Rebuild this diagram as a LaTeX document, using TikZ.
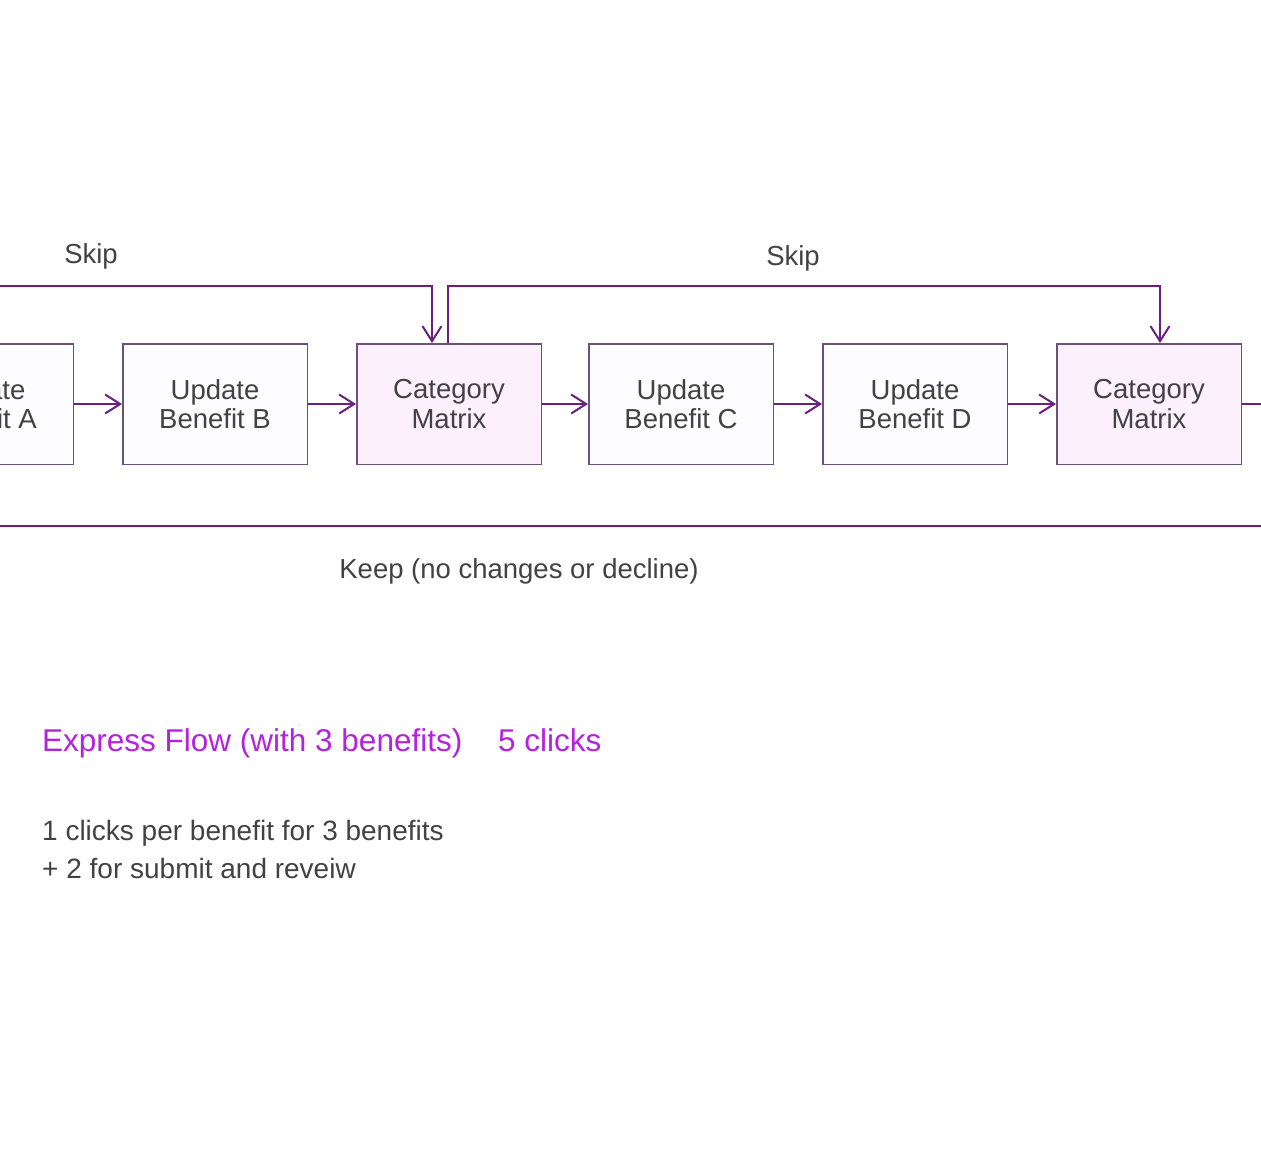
\documentclass[tikz,border=0pt]{standalone}
\usepackage{fontspec}
\setmainfont{Liberation Sans}
\usetikzlibrary{positioning,arrows.meta}

\definecolor{flowline}{HTML}{6A1F7E}
\definecolor{boxedge}{HTML}{6B4F7E}
\definecolor{boxfill}{HTML}{FDFCFF}
\definecolor{matrixfill}{HTML}{FCF0FC}
\definecolor{labeltext}{HTML}{424242}
\definecolor{expresstext}{HTML}{B522DD}

\tikzset{
	stepbox/.style={draw=boxedge, line width=1.5pt, fill=boxfill, minimum width=184.5pt,
		minimum height=120.5pt, inner sep=0pt, align=center, text=labeltext,
		font=\fontsize{27.5}{29.5}\selectfont},
	matrixbox/.style={stepbox, fill=matrixfill},
	flow/.style={draw=flowline, line width=2pt, -{Straight Barb[length=15pt,width=19pt,line width=2pt]}},
	plainflow/.style={draw=flowline, line width=2pt},
	note/.style={text=labeltext, inner sep=0pt, font=\fontsize{27.5}{30}\selectfont},
}

\begin{document}
\begin{tikzpicture}[x=1pt, y=-1pt, node distance=48pt]
	\fill[white] (0,0) rectangle (1261,1171);
	\useasboundingbox (0,0) rectangle (1261,1171);
	\clip (0,0) rectangle (1261,1171);

	% the chain of steps
	\node[stepbox] (benA) at (-19,404) {Update\\Benefit A};
	\node[stepbox, right=of benA] (benB) {Update\\Benefit B};
	\node[matrixbox, right=of benB] (catA) {Category\\Matrix};
	\node[stepbox, right=46pt of catA] (benC) {Update\\Benefit C};
	\node[stepbox, right=of benC] (benD) {Update\\Benefit D};
	\node[matrixbox, right=of benD] (catB) {Category\\Matrix};

	\coordinate (skipin) at (0,286);
	\coordinate (exitR) at (1261,404);
	\coordinate (keepL) at (0,526);
	\coordinate (keepR) at (1261,526);

	\path[flow]
	(benA) edge (benB)
	(benB) edge (catA)
	(catA) edge (benC)
	(benC) edge (benD)
	(benD) edge (catB);
	\draw[plainflow] (catB.east) -- (exitR);

	% skip paths
	\draw[flow] (skipin) -| ([xshift=-17pt]catA.north);
	\draw[flow] ([xshift=-1pt]catA.north) -- ([xshift=-1pt]catA.north |- skipin) -| ([xshift=11pt]catB.north);
	\node[note] (skipA) at (91,256) {Skip};
	\node[note] (skipB) at (793,258) {Skip};

	% keep path
	\draw[plainflow] (keepL) -- (keepR);
	\node[note] (keep) at (519,571) {Keep (no changes or decline)};

	% summary
	\node[note, anchor=base west, text=expresstext, font=\fontsize{31.5}{36}\selectfont] (express) at (42,751) {Express Flow (with 3 benefits)};
	\node[note, anchor=base west, text=expresstext, font=\fontsize{31.5}{36}\selectfont] (clicks) at (498,751) {5 clicks};
	\node[note, anchor=west, align=left, font=\fontsize{28}{38}\selectfont] (detail) at (42,849) {1 clicks per benefit for 3 benefits\\+ 2 for submit and reveiw};
\end{tikzpicture}
\end{document}
